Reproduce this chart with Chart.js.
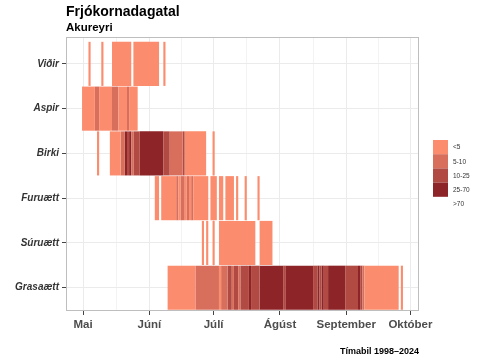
<!DOCTYPE html>
<html><head><meta charset="utf-8">
<script src="https://cdn.jsdelivr.net/npm/chart.js@4.4.0/dist/chart.umd.min.js"></script>
<style>html,body{margin:0;padding:0;background:#fff;}</style>
</head><body>
<canvas id="c" width="480" height="360"></canvas>
<script>
const categories = ['Viðir','Aspir','Birki','Furuætt','Súruætt','Grasaætt'];
const classLabels = ['<5','5-10','10-25','25-70','>70'];
const classColors = ['#FB8C6D','#D76F5C','#B14A42','#8C2428','rgba(0,0,0,0)'];
const monthLabels = ['Mai','Júní','Júlí','Ágúst','September','Október'];
const monthStartDays = [121,152,182,213,244,274];
const titleText = 'Frjókornadagatal';
const subtitleText = 'Akureyri';
const captionText = 'Tímabil 1998–2024';

// segments: [first day of year, last day of year, pollen class index]
const vidirSegments = [[124,124,0],[130,130,0],[135,143,0],[145,156,0],[159,159,0]];
const aspirSegments = [[121,126,0],[127,128,1],[129,134,0],[135,137,1],[138,141,0],[142,142,1],[143,146,0]];
const birkiSegments = [[128,128,0],[134,138,0],[139,140,1],[141,141,3],[142,142,2],[143,143,3],[144,144,1],
  [145,147,2],[148,158,3],[159,161,2],[162,167,1],[168,168,2],[169,178,0],[182,182,0]];
const furuSegments = [[155,156,0],[158,164,0],[165,165,1],[166,166,0],[167,168,1],[169,169,0],[170,170,1],
  [171,171,0],[172,172,1],[173,179,0],[181,183,0],[185,186,0],[188,191,0],[193,193,0],[197,197,0],[203,203,0]];
const suruSegments = [[177,177,0],[179,179,0],[182,182,0],[185,201,0],[204,209,0]];
const grasSegments = [[161,173,0],[174,184,1],[185,185,0],[186,188,1],[189,190,2],[191,191,1],[192,193,2],[194,194,1],
  [195,198,2],[199,199,3],[200,203,2],[204,214,3],[215,215,2],[216,228,3],[229,230,2],[231,231,3],[232,232,2],
  [233,233,3],[234,235,2],[236,243,3],[244,249,2],[250,250,3],[251,251,2],[252,252,1],[253,268,0],[270,270,0]];
const segmentsByCategory = [vidirSegments, aspirSegments, birkiSegments, furuSegments, suruSegments, grasSegments];

const FONT = "'Liberation Sans', Arial, Helvetica, sans-serif";

const datasets = classLabels.map((lab, ci) => ({
  label: lab, data: [], backgroundColor: classColors[ci], borderWidth: 0,
  grouped: false, barPercentage: 0.985, categoryPercentage: 1
}));
segmentsByCategory.forEach((segs, ri) => segs.forEach(([a, b, c]) => {
  datasets[c].data.push({x: [a - 0.5, b + 0.5], y: ri});
}));

const minorDays = monthStartDays.slice(1).map((d, i) => (d + monthStartDays[i]) / 2);
const xTickValues = monthStartDays.concat(minorDays).sort((a, b) => a - b);
const isMajor = v => monthStartDays.indexOf(v) >= 0;

const overlay = {
  id: 'overlay',
  afterDatasetsDraw(chart) {
    const {ctx, chartArea: a} = chart;
    ctx.save();
    ctx.strokeStyle = '#BEBEBE'; ctx.lineWidth = 1;
    ctx.strokeRect(a.left + 0.5, a.top + 0.5, a.right - a.left - 1, a.bottom - a.top - 1);
    ctx.restore();
  },
  afterDraw(chart) {
    const {ctx, chartArea: a} = chart;
    ctx.save();
    ctx.fillStyle = '#000';
    ctx.textAlign = 'left'; ctx.textBaseline = 'alphabetic';
    ctx.font = 'bold 14px ' + FONT;
    ctx.fillText(titleText, a.left, 15.5);
    ctx.font = 'bold 11.5px ' + FONT;
    ctx.fillText(subtitleText, a.left, 31);
    ctx.font = 'bold 9px ' + FONT;
    ctx.textAlign = 'right';
    ctx.fillText(captionText, a.right, 353.5);
    // legend
    const lx = a.right + 14, boxW = 15, boxH = 14.2;
    const ly = (a.top + a.bottom) / 2 - 34;
    ctx.font = '6.5px ' + FONT;
    ctx.textAlign = 'left'; ctx.textBaseline = 'middle';
    classLabels.forEach((lab, i) => {
      const y = ly + i * boxH;
      ctx.fillStyle = classColors[i];
      ctx.fillRect(lx, y, boxW, boxH);
      ctx.fillStyle = '#333';
      ctx.fillText(lab, lx + boxW + 5, y + boxH / 2 + 0.5);
    });
    ctx.restore();
  }
};

new Chart(document.getElementById('c'), {
  type: 'bar',
  data: {datasets},
  options: {
    indexAxis: 'y',
    responsive: false, animation: false, devicePixelRatio: 1,
    layout: {padding: {top: 37, right: 61, bottom: 0, left: 0}},
    plugins: {legend: {display: false}, title: {display: false}, tooltip: {enabled: false}},
    scales: {
      x: {
        type: 'linear', position: 'bottom', min: 113, max: 278, offset: false,
        afterBuildTicks: s => { s.ticks = xTickValues.map(v => ({value: v})); },
        afterFit: s => { s.height = 49; },
        ticks: {
          autoSkip: false, maxRotation: 0, padding: 3, color: '#4D4D4D',
          font: {family: FONT, size: 11.5, weight: 'bold'},
          callback: v => { const i = monthStartDays.indexOf(v); return i >= 0 ? monthLabels[i] : ''; }
        },
        grid: {
          offset: false, color: '#EBEBEB',
          lineWidth: c => (c.tick && isMajor(c.tick.value)) ? 1 : 0.6,
          tickColor: c => (c.tick && isMajor(c.tick.value)) ? '#444' : 'rgba(0,0,0,0)',
          tickLength: 4
        },
        border: {display: false}
      },
      y: {
        type: 'linear', reverse: true, min: -0.6, max: 5.52, offset: false,
        afterBuildTicks: s => { s.ticks = categories.map((_, i) => ({value: i})); },
        afterFit: s => { s.width = 66; },
        ticks: {
          autoSkip: false, padding: 3, color: '#333',
          font: {family: FONT, size: 10, weight: 'bold', style: 'italic'},
          callback: v => categories[v]
        },
        grid: {offset: false, color: '#EBEBEB', lineWidth: 1, tickColor: '#444', tickLength: 4},
        border: {display: false}
      }
    }
  },
  plugins: [overlay]
});
</script>
</body></html>
